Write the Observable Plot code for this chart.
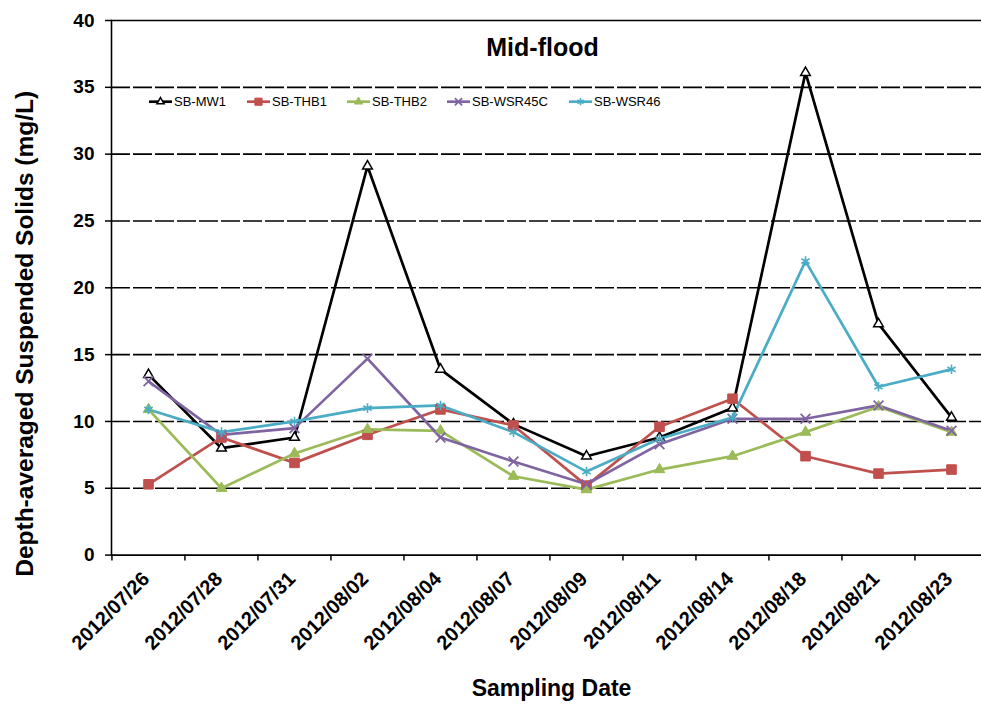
<!DOCTYPE html>
<html><head><meta charset="utf-8">
<script src="https://cdn.jsdelivr.net/npm/d3@7"></script>
<script src="https://cdn.jsdelivr.net/npm/@observablehq/plot@0.6"></script>
<style>body{margin:0;background:#fff;}</style>
</head><body><div id="chart"></div>
<script>
const dates = ["2012/07/26","2012/07/28","2012/07/31","2012/08/02","2012/08/04","2012/08/07","2012/08/09","2012/08/11","2012/08/14","2012/08/18","2012/08/21","2012/08/23"];
const seriesNames = ["SB-MW1","SB-THB1","SB-THB2","SB-WSR45C","SB-WSR46"];
const mw1    = [13.5, 8.0, 8.8, 29.1, 13.9, 9.8, 7.4, 8.8, 11.0, 36.1, 17.3, 10.3];
const thb1   = [5.3, 8.8, 6.9, 9.0, 10.9, 9.7, 5.2, 9.6, 11.7, 7.4, 6.1, 6.4];
const thb2   = [10.9, 5.0, 7.6, 9.4, 9.3, 5.9, 4.9, 6.4, 7.4, 9.2, 11.1, 9.2];
const wsr45c = [13.0, 9.0, 9.5, 14.7, 8.8, 7.0, 5.3, 8.3, 10.2, 10.2, 11.2, 9.3];
const wsr46  = [10.9, 9.2, 10.0, 11.0, 11.2, 9.2, 6.25, 8.7, 10.3, 22.0, 12.6, 13.9];
const yTicks = [0, 5, 10, 15, 20, 25, 30, 35, 40];
const gridTicks = [5, 10, 15, 20, 25, 30, 35];
const title = "Mid-flood";
const xLabel = "Sampling Date";
const yLabel = "Depth-averaged Suspended Solids (mg/L)";

const values = [mw1, thb1, thb2, wsr45c, wsr46];
const colors = ["#000000", "#C0504D", "#9BBB59", "#8064A2", "#4BACC6"];
const symbols = ["triangle", "square", "triangle", "times", "asterisk"];
const fills = ["#ffffff", "#C0504D", "#9BBB59", "none", "none"];
const radii = [3.6, 5.4, 4.0, 4.5, 4.5];
const markerStroke = [1.5, 1, 1, 1.8, 1.6];

const series = seriesNames.map((name, k) => dates.map((d, i) => ({series: name, date: d, value: values[k][i]})));

const font = "'Liberation Sans', Arial, sans-serif";

const lineMarks = series.map((rows, k) => Plot.line(rows, {x: "date", y: "value", stroke: colors[k], strokeWidth: 2.7}));
const dotMarks = series.map((rows, k) => Plot.dot(rows, {x: "date", y: "value", symbol: () => symbols[k], r: radii[k], fill: fills[k], stroke: colors[k], strokeWidth: markerStroke[k]}));

const plot = Plot.plot({
  width: 981, height: 705,
  marginLeft: 111, marginRight: 0, marginTop: 20, marginBottom: 150.4,
  style: {fontFamily: font, background: "white", color: "black", overflow: "visible"},
  x: {type: "point", domain: dates, range: [111.15, 988.3], padding: 0.5, axis: null},
  y: {domain: [0, 40], axis: null},
  symbol: {type: "identity"},
  marks: [
    Plot.ruleY(gridTicks, {stroke: "black", strokeWidth: 1.6, strokeDasharray: "19,3"}),
    Plot.ruleY([0, 40], {stroke: "black", strokeWidth: 1.6}),
    Plot.frame({anchor: "left", stroke: "black", strokeWidth: 1.6}),
    Plot.axisY({ticks: yTicks, tickSize: 6, tickPadding: 11, fontSize: 19, fontWeight: "bold", label: null, strokeWidth: 1.5}),
    Plot.axisX({ticks: dates, tickSize: 6, tickFormat: () => "", dx: -36.55, label: null, strokeWidth: 1.5}),
    Plot.text(dates, {x: d => d, frameAnchor: "bottom", rotate: -45, textAnchor: "end", dx: 2, dy: 25, fontSize: 20, fontWeight: "bold"}),
    ...lineMarks,
    ...dotMarks,
    Plot.text([title], {frameAnchor: "top", lineAnchor: "middle", dx: -4, dy: 27, fontSize: 25, fontWeight: "bold"}),
    Plot.text([xLabel], {frameAnchor: "bottom", lineAnchor: "middle", dx: 5, dy: 134, fontSize: 23, fontWeight: "bold"}),
    Plot.text([yLabel], {frameAnchor: "left", textAnchor: "middle", rotate: -90, dx: -86, dy: 46, fontSize: 24.5, fontWeight: "bold"})
  ]
});

// legend inside the plot area
const svg = d3.select(plot);
const legendStarts = [149, 247, 347, 447, 569];
const ly = 101.7;
const symMap = {triangle: d3.symbolTriangle, square: d3.symbolSquare, times: d3.symbolTimes, asterisk: d3.symbolAsterisk};
const lg = svg.append("g");
seriesNames.forEach((name, k) => {
  const x0 = legendStarts[k];
  lg.append("line").attr("x1", x0).attr("x2", x0 + 23).attr("y1", ly).attr("y2", ly)
    .attr("stroke", colors[k]).attr("stroke-width", 2.7);
  lg.append("path").attr("d", d3.symbol(symMap[symbols[k]], Math.PI * (radii[k] * 0.75) ** 2)())
    .attr("transform", `translate(${x0 + 11.5},${ly})`)
    .attr("fill", fills[k]).attr("stroke", colors[k]).attr("stroke-width", markerStroke[k]);
  lg.append("text").attr("x", x0 + 25).attr("y", ly).attr("dy", "0.35em")
    .attr("text-anchor", "start").attr("font-family", font).attr("font-size", 13)
    .attr("fill", "black").text(name);
});

document.getElementById("chart").appendChild(plot);
</script>
</body></html>
